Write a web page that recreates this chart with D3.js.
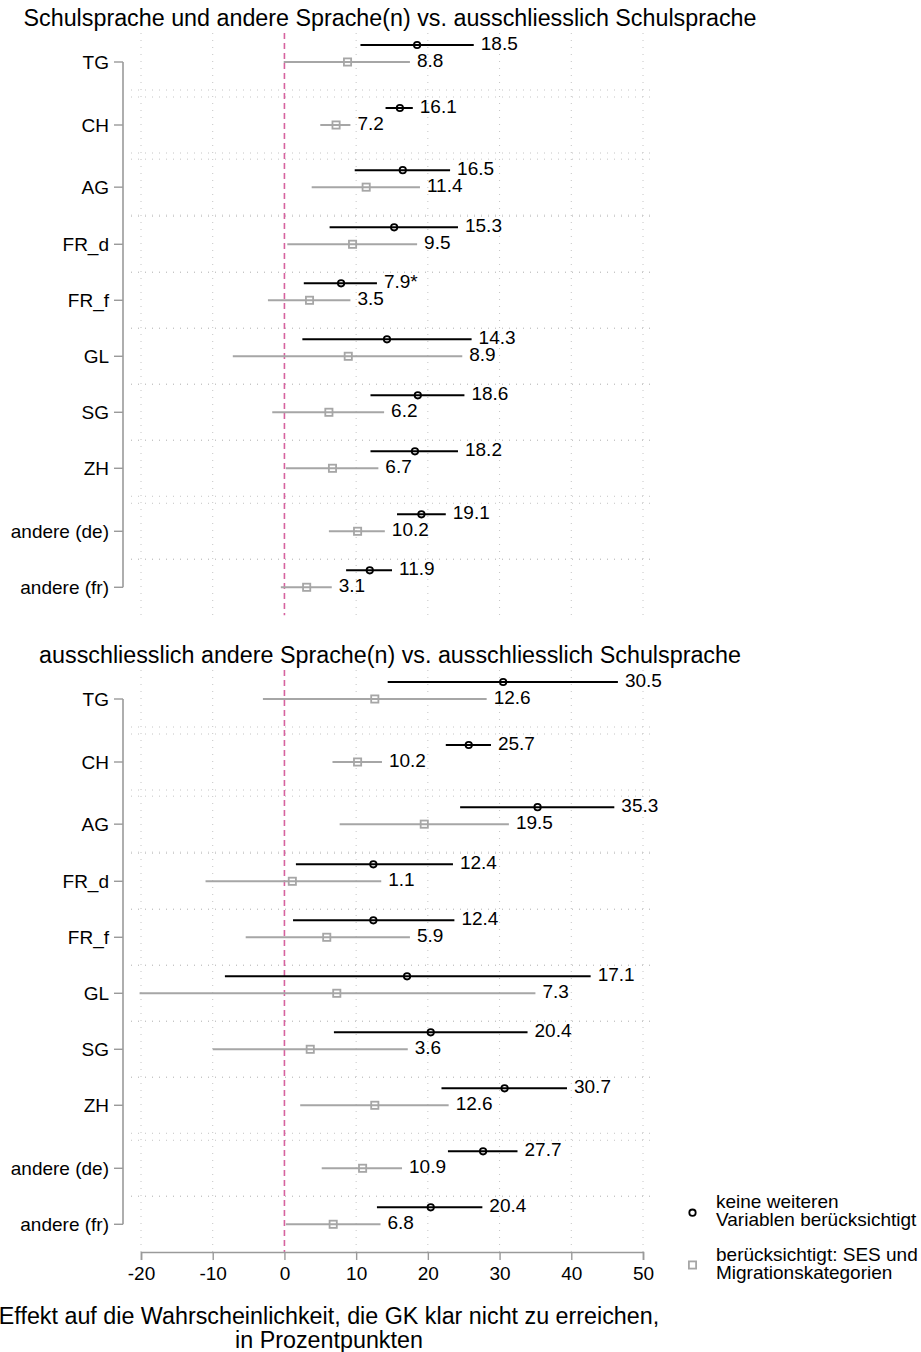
<!DOCTYPE html>
<html>
<head>
<meta charset="utf-8">
<script src="https://cdn.jsdelivr.net/npm/d3@7"></script>
<style>
  html, body { margin: 0; padding: 0; background: #fff; }
  svg { display: block; font-family: "Liberation Sans", Arial, sans-serif; }
</style>
</head>
<body>
<script>
// Regions, top to bottom
const categories = ["TG", "CH", "AG", "FR_d", "FR_f", "GL", "SG", "ZH", "andere (de)", "andere (fr)"];

// Panel 1: Schulsprache und andere Sprache(n)
const mixedRaw    = [18.5, 16.1, 16.5, 15.3, 7.9, 14.3, 18.6, 18.2, 19.1, 11.9];
const mixedRawLo  = [10.6, 14.1, 9.8, 6.3, 2.7, 2.5, 12.0, 12.0, 15.7, 8.6];
const mixedRawHi  = [26.4, 17.9, 23.1, 24.2, 12.9, 26.1, 25.1, 24.2, 22.5, 15.0];
const mixedRawMark = ["", "", "", "", "*", "", "", "", "", ""];
const mixedAdj    = [8.8, 7.2, 11.4, 9.5, 3.5, 8.9, 6.2, 6.7, 10.2, 3.1];
const mixedAdjLo  = [-0.1, 5.0, 3.8, 0.4, -2.3, -7.2, -1.7, 0.2, 6.2, -0.5];
const mixedAdjHi  = [17.5, 9.2, 18.9, 18.5, 9.2, 24.8, 13.9, 13.1, 14.0, 6.6];

// Panel 2: ausschliesslich andere Sprache(n)
const otherRaw    = [30.5, 25.7, 35.3, 12.4, 12.4, 17.1, 20.4, 30.7, 27.7, 20.4];
const otherRawLo  = [14.4, 22.5, 24.5, 1.6, 1.2, -8.3, 6.9, 21.9, 22.8, 12.9];
const otherRawHi  = [46.5, 28.8, 46.0, 23.5, 23.7, 42.7, 33.9, 39.4, 32.5, 27.6];
const otherRawMark = ["", "", "", "", "", "", "", "", "", ""];
const otherAdj    = [12.6, 10.2, 19.5, 1.1, 5.9, 7.3, 3.6, 12.6, 10.9, 6.8];
const otherAdjLo  = [-3.0, 6.7, 7.7, -11.0, -5.4, -20.2, -10.0, 2.2, 5.2, 0.2];
const otherAdjHi  = [28.2, 13.6, 31.3, 13.5, 17.5, 35.0, 17.2, 22.9, 16.4, 13.4];

const panelTitles = [
  "Schulsprache und andere Sprache(n) vs. ausschliesslich Schulsprache",
  "ausschliesslich andere Sprache(n) vs. ausschliesslich Schulsprache"
];
const xTicks = [-20, -10, 0, 10, 20, 30, 40, 50];
const legendLabels = [
  ["keine weiteren", "Variablen berücksichtigt"],
  ["berücksichtigt: SES und", "Migrationskategorien"]
];
const axisTitle = ["Effekt auf die Wahrscheinlichkeit, die GK klar nicht zu erreichen,", "in Prozentpunkten"];

// ---- layout ----
const W = 921, H = 1352;
const FONT = 19;
const rowSteps = [1.125, 1.11, 1.02, 1, 1, 1, 1, 1.125, 1];
const rowUnit = 56;
const rowPos = [0];
rowSteps.forEach((s, i) => rowPos.push(rowPos[i] + s));
const panelTops = [62, 699];
const rawOffset = -17;
const greyCol = "#a6a6a6";
const pink = "#d6639f";
const gridCol = "#c4c4c4";

const svg = d3.select("body").append("svg").attr("width", W).attr("height", H);

const x = d3.scaleLinear().domain([-20, 50]).range([141, 643]);
const plotLeft = 131, plotRight = 655;
const fmt = d3.format(".1f");

const panels = [
  { raw: mixedRaw, rawLo: mixedRawLo, rawHi: mixedRawHi, mark: mixedRawMark,
    adj: mixedAdj, adjLo: mixedAdjLo, adjHi: mixedAdjHi },
  { raw: otherRaw, rawLo: otherRawLo, rawHi: otherRawHi, mark: otherRawMark,
    adj: otherAdj, adjLo: otherAdjLo, adjHi: otherAdjHi }
];

panels.forEach((p, pi) => {
  const top = panelTops[pi];
  const y = d3.scaleLinear().domain([0, rowPos[rowPos.length - 1]])
    .range([top, top + rowUnit * rowPos[rowPos.length - 1]]);
  const yRow = i => y(rowPos[i]);
  const half = rowUnit / 2;
  const regionTop = yRow(0) - 29;
  const regionBottom = pi === 0 ? yRow(categories.length - 1) + 28 : 1252;
  const g = svg.append("g");

  // title
  g.append("text")
    .attr("x", 390).attr("y", top - 36)
    .attr("text-anchor", "middle")
    .attr("font-size", 23.3)
    .attr("fill", "#000")
    .text(panelTitles[pi]);

  // vertical grid
  g.selectAll("line.vgrid").data(xTicks.filter(t => t !== 0)).join("line")
    .attr("x1", d => x(d)).attr("x2", d => x(d))
    .attr("y1", regionTop).attr("y2", regionBottom)
    .attr("stroke", gridCol).attr("stroke-width", 1)
    .attr("stroke-dasharray", "1,6");

  // horizontal grid at row boundaries
  const hLines = [];
  for (let i = 0; i < categories.length - 1; i++) {
    hLines.push(yRow(i) + half);
    hLines.push(yRow(i + 1) - half);
  }
  g.selectAll("line.hgrid").data(hLines).join("line")
    .attr("x1", plotLeft).attr("x2", plotRight)
    .attr("y1", d => d).attr("y2", d => d)
    .attr("stroke", gridCol).attr("stroke-width", 1)
    .attr("stroke-dasharray", "1,6");

  // reference line at zero
  g.append("line")
    .attr("x1", x(0)).attr("x2", x(0))
    .attr("y1", regionTop).attr("y2", regionBottom)
    .attr("stroke", pink).attr("stroke-width", 1.6)
    .attr("stroke-dasharray", "6,4");

  // y axis
  g.append("line")
    .attr("x1", 123).attr("x2", 123)
    .attr("y1", yRow(0)).attr("y2", yRow(categories.length - 1))
    .attr("stroke", "#9a9a9a").attr("stroke-width", 1.6);
  categories.forEach((c, i) => {
    g.append("line")
      .attr("x1", 114).attr("x2", 123)
      .attr("y1", yRow(i)).attr("y2", yRow(i))
      .attr("stroke", "#9a9a9a").attr("stroke-width", 1.4);
    g.append("text")
      .attr("x", 109).attr("y", yRow(i) + 6.7)
      .attr("text-anchor", "end")
      .attr("font-size", FONT)
      .attr("fill", "#000")
      .text(c);
  });

  // adjusted estimates (grey squares)
  categories.forEach((c, i) => {
    const yy = yRow(i);
    g.append("line")
      .attr("x1", x(p.adjLo[i])).attr("x2", x(p.adjHi[i]))
      .attr("y1", yy).attr("y2", yy)
      .attr("stroke", greyCol).attr("stroke-width", 2);
    g.append("rect")
      .attr("x", x(p.adj[i]) - 3.6).attr("y", yy - 3.6)
      .attr("width", 7.2).attr("height", 7.2)
      .attr("fill", "none").attr("stroke", greyCol).attr("stroke-width", 1.8);
    g.append("text")
      .attr("x", x(p.adjHi[i]) + 7).attr("y", yy + 4.6)
      .attr("font-size", FONT).attr("fill", "#000")
      .text(fmt(p.adj[i]));
  });

  // raw estimates (black circles)
  categories.forEach((c, i) => {
    const yy = yRow(i) + rawOffset;
    g.append("line")
      .attr("x1", x(p.rawLo[i])).attr("x2", x(p.rawHi[i]))
      .attr("y1", yy).attr("y2", yy)
      .attr("stroke", "#000").attr("stroke-width", 2);
    g.append("circle")
      .attr("cx", x(p.raw[i])).attr("cy", yy).attr("r", 3.2)
      .attr("fill", "none").attr("stroke", "#000").attr("stroke-width", 1.8);
    g.append("text")
      .attr("x", x(p.rawHi[i]) + 7).attr("y", yy + 4.6)
      .attr("font-size", FONT).attr("fill", "#000")
      .text(fmt(p.raw[i]) + p.mark[i]);
  });
});

// x axis (bottom panel only)
const xAxisY = 1252;
const axisG = svg.append("g").attr("transform", `translate(0,${xAxisY})`)
  .call(d3.axisBottom(x).tickValues(xTicks).tickSize(8).tickPadding(7).tickFormat(d => String(d)));
axisG.select(".domain").attr("stroke", "#9a9a9a").attr("stroke-width", 1.6);
axisG.selectAll(".tick line").attr("stroke", "#9a9a9a").attr("stroke-width", 1.4);
axisG.selectAll(".tick text")
  .attr("font-family", "Liberation Sans, Arial, sans-serif")
  .attr("font-size", FONT).attr("fill", "#000");

// axis title
axisTitle.forEach((t, i) => {
  svg.append("text")
    .attr("x", 329).attr("y", 1323.5 + i * 24.5)
    .attr("text-anchor", "middle")
    .attr("font-size", 23.3).attr("fill", "#000")
    .text(t);
});

// legend
const lg = svg.append("g");
lg.append("circle").attr("cx", 692.5).attr("cy", 1212.7).attr("r", 3.2)
  .attr("fill", "none").attr("stroke", "#000").attr("stroke-width", 1.8);
lg.append("rect").attr("x", 692.5 - 3.6).attr("y", 1265 - 3.6)
  .attr("width", 7.2).attr("height", 7.2)
  .attr("fill", "none").attr("stroke", greyCol).attr("stroke-width", 1.8);
const legendBase = [1207.5, 1260.5];
legendLabels.forEach((lines, li) => {
  lines.forEach((t, j) => {
    lg.append("text")
      .attr("x", 716).attr("y", legendBase[li] + j * 18.8)
      .attr("font-size", FONT).attr("fill", "#000")
      .text(t);
  });
});
</script>
</body>
</html>
